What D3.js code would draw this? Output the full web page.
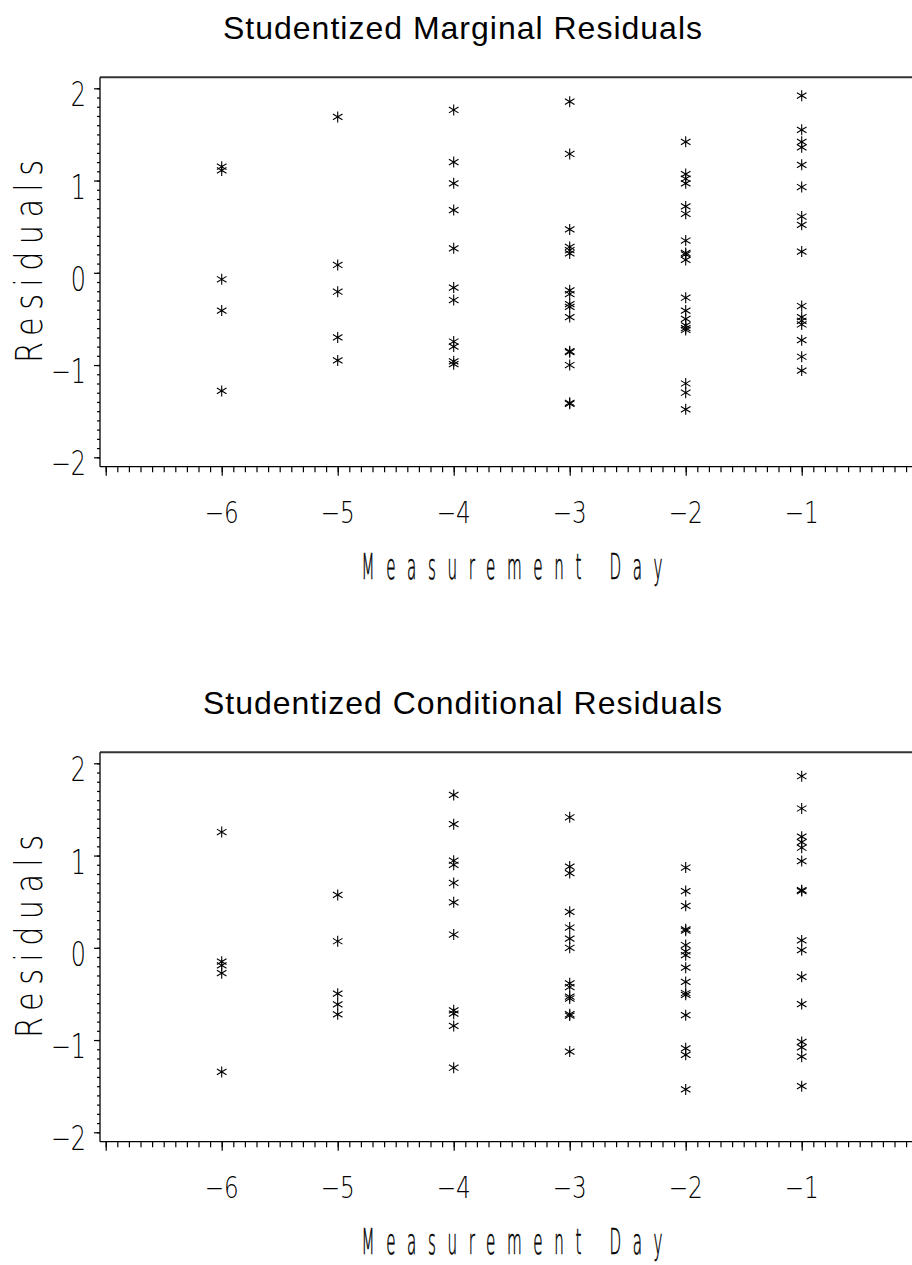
<!DOCTYPE html>
<html>
<head>
<meta charset="utf-8">
<script src="https://cdn.jsdelivr.net/npm/d3@7"></script>
<style>
  html, body { margin: 0; padding: 0; background: #fff; }
  svg { display: block; }
</style>
</head>
<body>
<svg id="chart" width="912" height="1265"></svg>
<script>
// measurement days shown on the x axis, one column of residuals each
const days = [-6, -5, -4, -3, -2, -1];
const xTickValues = [-7, -6, -5, -4, -3, -2, -1, 0];
const xTickLabels = [-6, -5, -4, -3, -2, -1];
const yTickLabels = [-2, -1, 0, 1, 2];

// studentized marginal residuals, per day (same order as days)
const marginalResiduals = [
  [1.15, 1.11, -0.07, -0.41, -1.28],
  [1.69, 0.085, -0.205, -0.70, -0.95],
  [1.765, 1.20, 0.97, 0.68, 0.265, -0.16, -0.295, -0.745, -0.80, -0.96, -0.99],
  [1.855, 1.288, 0.47, 0.28, 0.245, 0.21, -0.19, -0.23, -0.34, -0.37, -0.48, -0.85, -0.86, -1.0, -1.41, -1.42],
  [1.42, 1.07, 1.02, 0.97, 0.72, 0.64, 0.35, 0.215, 0.2, 0.14, -0.27, -0.41, -0.50, -0.57, -0.60, -0.62, -1.2, -1.3, -1.48],
  [1.92, 1.55, 1.42, 1.36, 1.17, 0.93, 0.61, 0.52, 0.23, -0.36, -0.48, -0.52, -0.56, -0.73, -0.91, -1.06]
];

// studentized conditional residuals, per day
const conditionalResiduals = [
  [1.255, -0.15, -0.19, -0.275, -1.345],
  [0.573, 0.071, -0.497, -0.613, -0.721],
  [1.657, 1.34, 0.944, 0.90, 0.703, 0.493, 0.144, -0.678, -0.714, -0.847, -1.30],
  [1.415, 0.88, 0.81, 0.39, 0.22, 0.10, 0.0, -0.385, -0.425, -0.53, -0.55, -0.72, -0.735, -1.125],
  [0.87, 0.615, 0.455, 0.20, 0.185, 0.03, -0.04, -0.08, -0.215, -0.37, -0.49, -0.51, -0.73, -1.09, -1.16, -1.535],
  [1.86, 1.51, 1.205, 1.145, 1.085, 0.94, 0.625, 0.615, 0.08, -0.025, -0.315, -0.61, -1.02, -1.08, -1.18, -1.5]
];

const panels = [
  { title: "Studentized Marginal Residuals", values: marginalResiduals, offset: 0, titleLen: 479 },
  { title: "Studentized Conditional Residuals", values: conditionalResiduals, offset: 675, titleLen: 519 }
];

const svg = d3.select("#chart");

const frameLeft = 100, frameTop = 77.3, frameBottom = 466.7, frameRight = 925;

const x = d3.scaleLinear().domain([-7, 0]).range([105.7, 917.7]);
const y = d3.scaleLinear().domain([-2, 2]).range([457.3, 88.3]);

const star = "M0,-5.5V5.5M-4.8,-2.9L4.8,2.9M-4.8,2.9L4.8,-2.9";

// narrow "plotter" style text: squeeze glyphs horizontally
function narrowText(g, px, py, str, { size, sx, anchor = "middle", length, rotate = 0, stroke = 0 }) {
  const t = g.append("g")
      .attr("transform", `translate(${px},${py}) rotate(${rotate}) scale(${sx},1)`)
    .append("text")
      .attr("font-family", "DejaVu Sans")
      .attr("font-weight", 200)
      .attr("font-size", size)
      .attr("text-anchor", anchor)
      .attr("fill", "#000")
      .text(str);
  if (stroke) {
    t.attr("stroke", "#000")
     .attr("stroke-width", stroke)
     .attr("vector-effect", "non-scaling-stroke");
  }
  if (length) t.attr("textLength", length / sx).attr("lengthAdjust", "spacing");
  return t;
}

const fmt = d => d < 0 ? "\u2212" + Math.abs(d) : String(d);

panels.forEach(p => {
  const g = svg.append("g").attr("transform", `translate(0,${p.offset})`);

  // title
  g.append("text")
      .attr("x", 462.5)
      .attr("y", 38.5)
      .attr("text-anchor", "middle")
      .attr("font-family", "Liberation Sans")
      .attr("font-size", 32)
      .attr("textLength", p.titleLen)
      .attr("lengthAdjust", "spacing")
      .text(p.title);

  // frame
  g.append("line")
      .attr("x1", frameLeft).attr("x2", frameRight)
      .attr("y1", frameTop).attr("y2", frameTop)
      .attr("stroke", "#333").attr("stroke-width", 2);
  g.append("line")
      .attr("x1", frameLeft).attr("x2", frameLeft)
      .attr("y1", frameTop).attr("y2", frameBottom)
      .attr("stroke", "#000").attr("stroke-width", 1.3);
  g.append("line")
      .attr("x1", frameLeft).attr("x2", frameRight)
      .attr("y1", frameBottom).attr("y2", frameBottom)
      .attr("stroke", "#000").attr("stroke-width", 1.3);

  // y ticks (major + minor every 0.1)
  g.append("g")
      .attr("transform", `translate(${frameLeft},0)`)
      .call(d3.axisLeft(y).tickValues(yTickLabels).tickSize(6).tickFormat(""))
      .call(a => a.select(".domain").remove());
  g.append("g")
      .attr("transform", `translate(${frameLeft},0)`)
      .call(d3.axisLeft(y).tickValues(d3.range(-20, 21).map(d => d / 10)).tickSize(3).tickFormat(""))
      .call(a => a.select(".domain").remove());

  // x ticks (major + minor every 0.1)
  g.append("g")
      .attr("transform", `translate(0,${frameBottom})`)
      .call(d3.axisBottom(x).tickValues(xTickValues).tickSize(9).tickFormat(""))
      .call(a => a.select(".domain").remove());
  g.append("g")
      .attr("transform", `translate(0,${frameBottom})`)
      .call(d3.axisBottom(x).tickValues(d3.range(-70, 1).map(d => d / 10)).tickSize(5.5).tickFormat(""))
      .call(a => a.select(".domain").remove());

  g.selectAll(".tick line").attr("stroke", "#000").attr("stroke-width", 1.2);

  // tick labels
  yTickLabels.forEach(v => {
    narrowText(g, 86, y(v) + 18, fmt(v), { size: 34, sx: 0.7, anchor: "end" });
  });
  xTickLabels.forEach(v => {
    narrowText(g, x(v), 523.3, fmt(v), { size: 30, sx: 0.77, anchor: "middle" });
  });

  // axis titles
  narrowText(g, 512, 579.3, "Measurement Day", { size: 36, sx: 0.42, length: 301, stroke: 0.5 });
  narrowText(g, 42, 261.5, "Residuals", { size: 37, sx: 0.82, length: 203, rotate: -90 });

  // points
  const pts = days.flatMap((d, i) => p.values[i].map(v => ({ day: d, value: v })));
  g.append("g")
    .selectAll("path")
    .data(pts)
    .join("path")
      .attr("transform", d => `translate(${x(d.day)},${y(d.value)})`)
      .attr("d", star)
      .attr("fill", "none")
      .attr("stroke", "#000")
      .attr("stroke-width", 1.1);
});
</script>
</body>
</html>
